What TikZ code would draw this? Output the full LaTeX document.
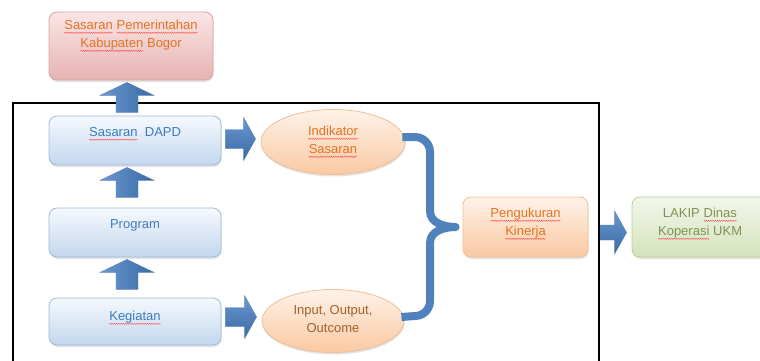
\documentclass[tikz,border=0pt]{standalone}
\usepackage{fontspec}
\setmainfont{Liberation Sans}
\usetikzlibrary{shapes.geometric,shadows,calc,decorations.pathmorphing}
\newcommand\sqw[1]{\tikz[baseline=(w.base)]{\node[inner sep=0pt,outer sep=0pt,anchor=base] (w) {#1};
  \draw[red!75!white,line width=0.35pt,decorate,decoration={snake,amplitude=0.6pt,segment length=2.2pt}]
   ([yshift=-3pt]w.base west) -- ([yshift=-3pt]w.base east);}}
\definecolor{redT}{HTML}{FAE6E5}
\definecolor{redD}{HTML}{E6B3B2}
\definecolor{redB}{HTML}{D9A3A1}
\definecolor{bluT}{HTML}{F5F9FD}
\definecolor{bluD}{HTML}{C3D7EE}
\definecolor{bluB}{HTML}{9FBADB}
\definecolor{orgT}{HTML}{FEF2E8}
\definecolor{orgD}{HTML}{FAC9A2}
\definecolor{orgB}{HTML}{F0BE96}
\definecolor{grnT}{HTML}{F2F7EA}
\definecolor{grnD}{HTML}{D4E2BC}
\definecolor{grnB}{HTML}{BCD095}
\definecolor{arL}{HTML}{6A98D0}
\definecolor{arD}{HTML}{3A68A3}
\definecolor{arM}{HTML}{4F81BD}
\definecolor{txO}{HTML}{E07426}
\definecolor{txB}{HTML}{3B7DC0}
\definecolor{txBr}{HTML}{A0612D}
\definecolor{txG}{HTML}{7F9155}
% vertical block arrow: from lower node #1 up to upper node #2
\newcommand\vblk[2]{\path[upar] let \p1=(#1.north), \p2=(#2.south) in
  (\x1-19,\y2-32) -- (\x1-19,\y2-15) -- (\x1-35,\y2-15) -- (\x1-8,\y2-2) --
  (\x1+19,\y2-15) -- (\x1+3,\y2-15) -- (\x1+3,\y2-32) -- cycle;}
% horizontal block arrow: #1 -> #2, #3 = vertical offset, #4 = start gap, #5 = shaft half
\newcommand\hblk[5]{\path[rtar] let \p1=(#1.east), \p2=(#2.west) in
  (\x1+#4,\y1+#3-#5) -- (\x2-17,\y1+#3-#5) -- (\x2-17,\y1+#3-21.5) -- (\x2-5,\y1+#3) --
  (\x2-17,\y1+#3+21.5) -- (\x2-17,\y1+#3+#5) -- (\x1+#4,\y1+#3+#5) -- cycle;}
\begin{document}
\begin{tikzpicture}[x=1pt,y=1pt,
  txt/.style={align=center,font=\fontsize{13}{18}\selectfont,inner sep=0pt},
  shd/.style={drop shadow={shadow xshift=0.6pt,shadow yshift=-2pt,opacity=0.22}},
  rbox/.style={rectangle,rounded corners=8pt,line width=0.8pt,shd},
  redbox/.style={rbox,draw=redB,top color=redT,bottom color=redD,minimum width=164,minimum height=68},
  blubox/.style={rbox,draw=bluB,top color=bluT,bottom color=bluD,minimum width=172,minimum height=49},
  orgbox/.style={rbox,draw=orgB,top color=orgT,bottom color=orgD,minimum width=125,minimum height=60},
  grnbox/.style={rbox,draw=grnB,top color=grnT,bottom color=grnD,minimum width=138,minimum height=60},
  orgell/.style={ellipse,line width=0.8pt,draw=orgB,top color=orgT,bottom color=orgD,shd,inner sep=0pt},
  upar/.style={left color=arL,right color=arD,draw=arD!80,line width=0.4pt,line join=miter},
  rtar/.style={top color=arL,bottom color=arD,draw=arD!80,line width=0.4pt},
  brace/.style={draw=arM,line width=8pt,line join=round,line cap=butt},
  frame/.style={draw=black,line width=1.6pt}
]
\useasboundingbox (0,0) rectangle (760,360);
\clip (0,0) rectangle (760,360);

% boxes
\node[redbox] (red) at (131,314) {};
\node[blubox] (dapd) at (135,219.5) {};
\node[blubox] (prog) at (135,127.5) {};
\node[blubox,minimum height=47] (keg) at (135,38.5) {};
\node[orgell,minimum width=144,minimum height=65] (ind) at (333,218) {};
\node[orgell,minimum width=142,minimum height=63] (inp) at (333,39) {};
\node[orgbox] (pk) at (525.5,133) {};
\node[grnbox] (lakip) at (701,133) {};

% texts
\node[txt,text=txO] (red-t) at (131,324) {\sqw{Sasaran} \sqw{Pemerintahan}\\\sqw{Kabupaten} Bogor};
\node[txt,text=txB] (dapd-t) at (135,226) {\sqw{Sasaran}\ \ DAPD};
\node[txt,text=txB] (prog-t) at (135,134.5) {Program};
\node[txt,text=txB] (keg-t) at (135,42) {\sqw{Kegiatan}};
\node[txt,text=txO] (ind-t) at (333,218) {\sqw{Indikator}\\\sqw{Sasaran}};
\node[txt,text=txBr] (inp-t) at (333,41) {Input, Output,\\Outcome};
\node[txt,text=txO] (pk-t) at (525.5,136) {\sqw{Pengukuran}\\\sqw{Kinerja}};
\node[txt,text=txG] (lakip-t) at (700,136) {LAKIP \sqw{Dinas}\\\sqw{Koperasi} UKM};

% brace joining the two ellipses to Pengukuran Kinerja
\coordinate (tip) at ($(pk.west)+(-7,0)$);
\draw[brace] ($(ind.east)+(-3,5)$) -- (415,223) to[out=0,in=90] (430,208) -- (430,149)
  to[out=-90,in=180] (tip) to[out=180,in=90] (430,117) -- (430,59)
  to[out=-90,in=0] (415,44) -- ($(inp.east)+(-3,4)$);

% horizontal block arrows
\hblk{dapd}{ind}{1.5}{4}{9.5}
\hblk{keg}{inp}{4.5}{4}{9.5}
\hblk{pk}{lakip}{-5.5}{10}{7.5}

% frame
\draw[frame] (13,-20) -- (13,257) -- (599,257) -- (599,-20);

% vertical block arrows
\vblk{dapd}{red}
\vblk{prog}{dapd}
\vblk{keg}{prog}
\end{tikzpicture}
\end{document}
